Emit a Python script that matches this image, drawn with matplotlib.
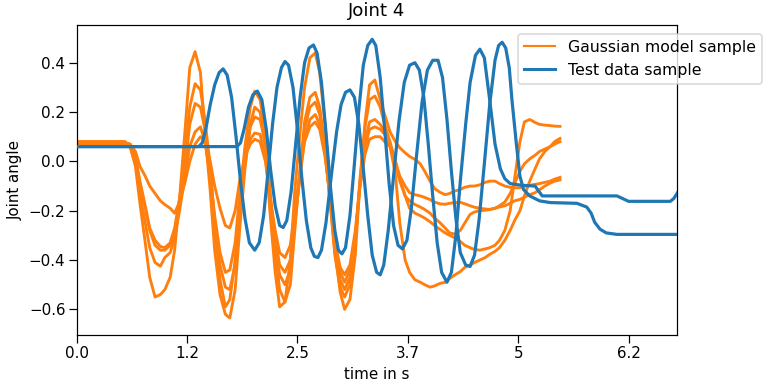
import matplotlib
matplotlib.use("Agg")
import matplotlib.pyplot as plt
from matplotlib.lines import Line2D

# ---------------- data ----------------
title = "Joint 4"
x_label = "time in s"
y_label = "Joint angle"
legend_labels = ["Gaussian model sample", "Test data sample"]

xtick_values = [0.0, 1.24, 2.48, 3.72, 4.96, 6.2]
xtick_labels = ["0.0", "1.2", "2.5", "3.7", "5", "6.2"]
ytick_values = [-0.6, -0.4, -0.2, 0.0, 0.2, 0.4]

# sample times of the Gaussian model samples (s)
t_model = [0.00,
           0.54, 0.60, 0.66, 0.71, 0.77, 0.82, 0.88, 0.94, 0.99, 1.05,
           1.10, 1.16, 1.22, 1.27, 1.33, 1.39, 1.44, 1.50, 1.55, 1.61,
           1.67, 1.72, 1.78, 1.83, 1.89, 1.95, 2.00, 2.06, 2.12, 2.17,
           2.23, 2.28, 2.34, 2.40, 2.45, 2.51, 2.56, 2.62, 2.68, 2.73,
           2.79, 2.85, 2.90, 2.96, 3.01, 3.07, 3.13, 3.18, 3.24, 3.29,
           3.35, 3.41, 3.46, 3.52, 3.58, 3.63, 3.69, 3.74, 3.80, 3.86,
           3.91, 3.97, 4.02, 4.08, 4.14, 4.19, 4.25, 4.31, 4.36, 4.42,
           4.47, 4.53, 4.59, 4.64, 4.70, 4.75, 4.81, 4.87, 4.92, 4.98,
           5.03, 5.09, 5.15, 5.20, 5.26, 5.32, 5.37, 5.43]

model_e = [0.08,
           0.08, 0.06, -0.02, -0.17, -0.33, -0.47, -0.55, -0.54, -0.52, -0.47,
           -0.36, -0.13, 0.14, 0.38, 0.445, 0.36, 0.12, -0.12, -0.36, -0.54,
           -0.62, -0.635, -0.52, -0.28, -0.03, 0.15, 0.22, 0.20, 0.06, -0.20,
           -0.45, -0.59, -0.57, -0.40, -0.12, 0.12, 0.30, 0.42, 0.44, 0.36,
           0.15, -0.12, -0.36, -0.53, -0.60, -0.56, -0.38, -0.10, 0.16, 0.31,
           0.33, 0.25, 0.19, 0.12, 0.08, 0.055, 0.035, 0.02, 0.008, -0.01,
           -0.04, -0.08, -0.11, -0.125, -0.135, -0.13, -0.12, -0.114, -0.105, -0.10,
           -0.10, -0.095, -0.085, -0.08, -0.08, -0.09, -0.10, -0.105, -0.107, -0.107,
           -0.10, -0.097, -0.093, -0.09, -0.085, -0.08, -0.072, -0.065]

model_b = [0.075,
           0.075, 0.07, 0.02, -0.08, -0.18, -0.27, -0.32, -0.345, -0.35, -0.33,
           -0.27, -0.14, 0.04, 0.22, 0.315, 0.29, 0.17, -0.02, -0.26, -0.48,
           -0.59, -0.56, -0.40, -0.16, 0.06, 0.22, 0.285, 0.25, 0.12, -0.12,
           -0.36, -0.52, -0.57, -0.50, -0.28, -0.03, 0.16, 0.26, 0.28, 0.22,
           0.06, -0.18, -0.38, -0.51, -0.55, -0.50, -0.33, -0.08, 0.14, 0.25,
           0.265, 0.22, 0.15, 0.08, 0.0, -0.06, -0.10, -0.127, -0.135, -0.14,
           -0.146, -0.155, -0.165, -0.172, -0.174, -0.17, -0.167, -0.166, -0.172, -0.18,
           -0.186, -0.19, -0.193, -0.195, -0.19, -0.185, -0.18, -0.17, -0.16, -0.154,
           -0.145, -0.135, -0.127, -0.115, -0.10, -0.088, -0.08, -0.075]

model_c = [0.07,
           0.07, 0.065, 0.01, -0.09, -0.19, -0.28, -0.34, -0.36, -0.36, -0.34,
           -0.29, -0.17, -0.01, 0.15, 0.235, 0.22, 0.13, -0.04, -0.24, -0.42,
           -0.51, -0.52, -0.42, -0.22, -0.01, 0.14, 0.18, 0.17, 0.07, -0.12,
           -0.33, -0.46, -0.50, -0.44, -0.26, -0.04, 0.13, 0.22, 0.24, 0.19,
           0.04, -0.17, -0.36, -0.48, -0.52, -0.47, -0.32, -0.10, 0.08, 0.16,
           0.17, 0.15, 0.12, 0.07, 0.0, -0.08, -0.14, -0.16, -0.175, -0.185,
           -0.195, -0.21, -0.23, -0.248, -0.27, -0.29, -0.295, -0.28, -0.25, -0.215,
           -0.205, -0.20, -0.198, -0.195, -0.19, -0.18, -0.165, -0.13, -0.09, -0.04,
           -0.01, 0.01, 0.025, 0.04, 0.05, 0.06, 0.07, 0.08]

model_d = [0.08,
           0.08, 0.06, -0.01, -0.13, -0.25, -0.35, -0.41, -0.425, -0.39, -0.37,
           -0.31, -0.19, -0.05, 0.06, 0.12, 0.14, 0.08, -0.06, -0.22, -0.37,
           -0.45, -0.44, -0.33, -0.14, 0.02, 0.09, 0.115, 0.11, 0.02, -0.14,
           -0.31, -0.42, -0.45, -0.40, -0.24, -0.06, 0.09, 0.17, 0.19, 0.15,
           0.03, -0.16, -0.34, -0.45, -0.49, -0.44, -0.30, -0.10, 0.06, 0.13,
           0.14, 0.13, 0.11, 0.06, 0.0, -0.07, -0.14, -0.19, -0.21, -0.22,
           -0.23, -0.245, -0.26, -0.275, -0.29, -0.30, -0.31, -0.325, -0.34, -0.35,
           -0.357, -0.36, -0.355, -0.35, -0.34, -0.32, -0.28, -0.20, -0.07, 0.08,
           0.16, 0.17, 0.158, 0.15, 0.147, 0.145, 0.143, 0.142]

model_a = [0.075,
           0.075, 0.07, 0.04, -0.02, -0.06, -0.10, -0.13, -0.16, -0.175, -0.19,
           -0.21, -0.16, -0.08, 0.0, 0.07, 0.10, 0.085, 0.0, -0.10, -0.19,
           -0.26, -0.27, -0.20, -0.08, 0.02, 0.07, 0.09, 0.08, 0.0, -0.14,
           -0.28, -0.37, -0.39, -0.34, -0.20, -0.04, 0.08, 0.14, 0.16, 0.13,
           0.02, -0.15, -0.32, -0.43, -0.46, -0.42, -0.28, -0.11, 0.03, 0.09,
           0.10, 0.10, 0.08, 0.06, -0.05, -0.25, -0.40, -0.45, -0.48, -0.49,
           -0.50, -0.51, -0.505, -0.495, -0.49, -0.475, -0.46, -0.447, -0.43, -0.42,
           -0.41, -0.40, -0.39, -0.377, -0.365, -0.35, -0.32, -0.28, -0.24, -0.20,
           -0.14, -0.08, -0.03, 0.01, 0.04, 0.06, 0.08, 0.093]

model_samples = [model_a, model_b, model_c, model_d, model_e]

# test data sample 1
t_test1 = [0.00, 1.37, 1.41, 1.45, 1.50, 1.55, 1.60, 1.645, 1.69, 1.74,
           1.79, 1.84, 1.89, 1.94, 2.00, 2.05, 2.10, 2.15, 2.20, 2.25,
           2.30, 2.34, 2.38, 2.43, 2.48, 2.53, 2.58, 2.63, 2.67, 2.71,
           2.75, 2.80, 2.86, 2.92, 2.97, 3.02, 3.07, 3.12, 3.17, 3.22,
           3.27, 3.32, 3.37, 3.41, 3.45, 3.50, 3.56, 3.62, 3.68, 3.74,
           3.80, 3.85, 3.90, 3.95, 4.00, 4.05, 4.10, 4.16, 4.21, 4.26,
           4.31, 4.37, 4.42, 4.48, 4.53, 4.58, 4.64, 4.70, 4.76, 4.81,
           4.87, 5.00, 5.15, 5.19, 5.23, 6.07, 6.13, 6.20, 6.67, 6.71,
           6.75]
test1 = [0.06, 0.06, 0.075, 0.13, 0.23, 0.31, 0.36, 0.375, 0.35, 0.26,
         0.10, -0.08, -0.23, -0.33, -0.36, -0.33, -0.22, -0.04, 0.15, 0.30,
         0.38, 0.405, 0.39, 0.30, 0.13, -0.07, -0.24, -0.35, -0.385, -0.39,
         -0.36, -0.25, -0.06, 0.12, 0.23, 0.28, 0.29, 0.26, 0.15, -0.03,
         -0.22, -0.38, -0.45, -0.46, -0.42, -0.28, -0.06, 0.16, 0.32, 0.39,
         0.40, 0.37, 0.26, 0.07, -0.14, -0.33, -0.45, -0.49, -0.45, -0.30,
         -0.08, 0.15, 0.32, 0.43, 0.455, 0.42, 0.25, 0.07, -0.03, -0.07,
         -0.09, -0.097, -0.10, -0.12, -0.14, -0.14, -0.15, -0.162, -0.162, -0.15,
         -0.127]

# test data sample 2
t_test2 = [0.00, 1.80, 1.84, 1.88, 1.93, 1.98, 2.03, 2.08, 2.13, 2.18,
           2.23, 2.28, 2.32, 2.36, 2.41, 2.46, 2.51, 2.56, 2.61, 2.66,
           2.70, 2.75, 2.80, 2.85, 2.90, 2.94, 2.98, 3.02, 3.07, 3.12,
           3.17, 3.22, 3.27, 3.32, 3.36, 3.41, 3.46, 3.51, 3.56, 3.61,
           3.66, 3.71, 3.76, 3.82, 3.88, 3.94, 4.00, 4.06, 4.11, 4.16,
           4.21, 4.26, 4.31, 4.37, 4.42, 4.47, 4.52, 4.58, 4.64, 4.70,
           4.74, 4.78, 4.82, 4.86, 4.89, 4.94, 4.98, 5.02, 5.09, 5.20,
           5.32, 5.62, 5.73, 5.78, 5.82, 5.88, 5.95, 6.07, 6.75]
test2 = [0.06, 0.06, 0.075, 0.13, 0.22, 0.27, 0.285, 0.25, 0.13, -0.04,
         -0.18, -0.26, -0.268, -0.24, -0.12, 0.07, 0.26, 0.40, 0.46, 0.472,
         0.44, 0.32, 0.12, -0.10, -0.28, -0.36, -0.375, -0.35, -0.22, -0.01,
         0.21, 0.39, 0.47, 0.495, 0.47, 0.34, 0.13, -0.09, -0.26, -0.34,
         -0.355, -0.32, -0.19, 0.03, 0.24, 0.37, 0.41, 0.41, 0.34, 0.17,
         -0.04, -0.23, -0.37, -0.42, -0.426, -0.38, -0.24, -0.01, 0.23, 0.41,
         0.47, 0.483, 0.46, 0.38, 0.25, 0.07, -0.06, -0.114, -0.14, -0.16,
         -0.167, -0.17, -0.185, -0.21, -0.247, -0.275, -0.29, -0.296, -0.296]

# ---------------- plot ----------------
orange = "#ff7f0e"
blue = "#1f77b4"

DPI = 109
fig = plt.figure(figsize=(765 / DPI, 383 / DPI), dpi=DPI)
ax = fig.add_axes([0.1003, 0.1253, 0.7847, 0.8094])

for s in model_samples:
    ax.plot(t_model, s, color=orange, lw=1.9, zorder=2,
            solid_joinstyle="round")
ax.plot(t_test1, test1, color=blue, lw=2.1, zorder=3, solid_joinstyle="round")
ax.plot(t_test2, test2, color=blue, lw=2.1, zorder=3, solid_joinstyle="round")

ax.set_xlim(0, 6.745)
ax.set_ylim(-0.704, 0.553)
ax.set_xticks(xtick_values)
ax.set_xticklabels(xtick_labels)
ax.set_yticks(ytick_values)
ax.tick_params(labelsize=10, length=5, pad=2.5)

ax.set_title(title, fontsize=12)
ax.set_xlabel(x_label, fontsize=10)
ax.set_ylabel(y_label, fontsize=10)

handles = [Line2D([], [], color=orange, lw=1.4),
           Line2D([], [], color=blue, lw=2.0)]
ax.legend(handles, legend_labels, loc="upper left",
          bbox_to_anchor=(0.7346, 0.9726), borderaxespad=0,
          fontsize=10.4, framealpha=0.8)

fig.savefig("out.png", dpi=DPI)
